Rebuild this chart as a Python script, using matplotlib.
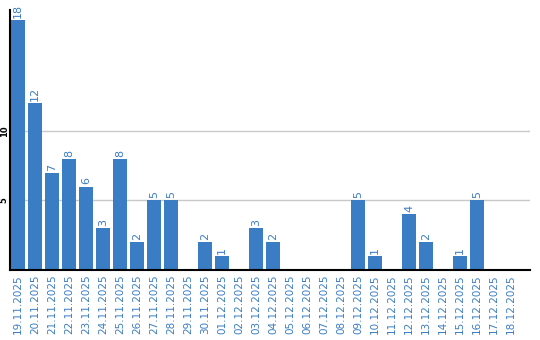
import matplotlib
matplotlib.use("Agg")
import matplotlib.pyplot as plt

dates = ["19.11.2025", "20.11.2025", "21.11.2025", "22.11.2025", "23.11.2025",
         "24.11.2025", "25.11.2025", "26.11.2025", "27.11.2025", "28.11.2025",
         "29.11.2025", "30.11.2025", "01.12.2025", "02.12.2025", "03.12.2025",
         "04.12.2025", "05.12.2025", "06.12.2025", "07.12.2025", "08.12.2025",
         "09.12.2025", "10.12.2025", "11.12.2025", "12.12.2025", "13.12.2025",
         "14.12.2025", "15.12.2025", "16.12.2025", "17.12.2025", "18.12.2025"]
values = [18, 12, 7, 8, 6, 3, 8, 2, 5, 5,
          0, 2, 1, 0, 3, 2, 0, 0, 0, 0,
          5, 1, 0, 4, 2, 0, 1, 5, 0, 0]
yticks = [5, 10]

blue = "#3a7dc4"
fig = plt.figure(figsize=(5.4, 3.4), dpi=100)
ax = fig.add_axes([10/540, 70/340, 520/540, 260/340])
x = list(range(len(dates)))
ax.bar(x, values, width=0.82, color=blue, zorder=2)
for xi, v in zip(x, values):
    if v > 0:
        ax.text(xi, v + 0.15, str(v), rotation=90, ha="center", va="bottom",
                color=blue, fontsize=8)
ax.set_xlim(-0.47, 30.12)
ax.set_ylim(0, 18.7)
ax.set_yticks(yticks)
ax.set_yticklabels([str(t) for t in yticks], rotation=90, fontsize=6,
                   fontweight="bold", va="center")
ax.yaxis.grid(True, color="#c8c8c8", linewidth=1, zorder=0)
ax.set_xticks(x)
ax.set_xticklabels(dates, rotation=90, color=blue, fontsize=7.5)
ax.tick_params(axis="both", length=0, pad=3)
ax.tick_params(axis="y", pad=1)
for s in ["top", "right"]:
    ax.spines[s].set_visible(False)
ax.spines["left"].set_linewidth(1.5)
ax.spines["bottom"].set_linewidth(1.5)
fig.savefig("out.png", dpi=100)
